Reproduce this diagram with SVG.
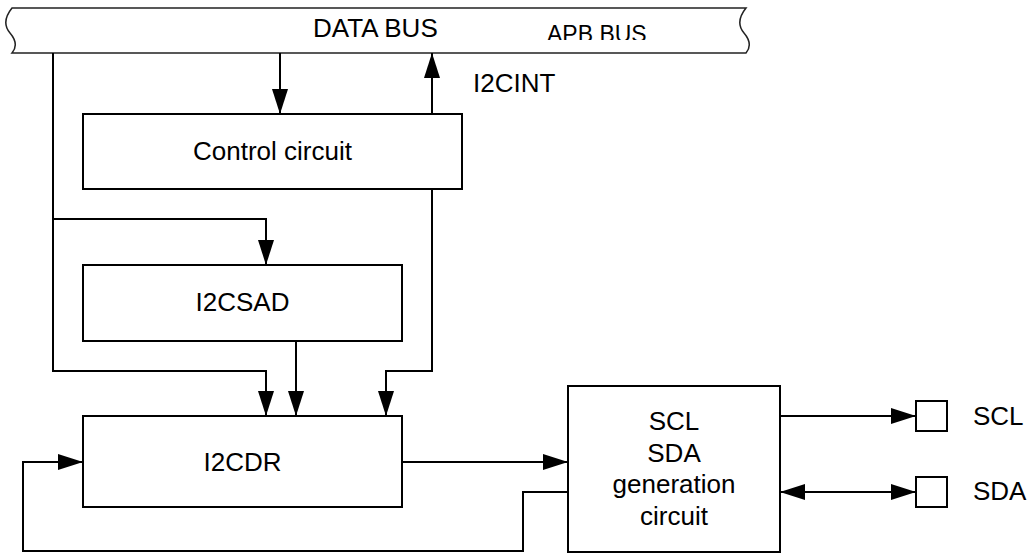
<svg xmlns="http://www.w3.org/2000/svg" width="1029" height="553" viewBox="0 0 1029 553">
<style>
.box{fill:#fff;stroke:#000;stroke-width:2}
.bus{fill:#fff;stroke:#222;stroke-width:1.5}
.ln{fill:none;stroke:#000;stroke-width:2}
.t{font-family:"Liberation Sans",Arial,sans-serif;font-size:26px;fill:#000}
.c{text-anchor:middle}
</style>
<defs>
<marker id="ah" markerUnits="userSpaceOnUse" markerWidth="26" markerHeight="18" refX="25" refY="8" orient="auto-start-reverse">
<path d="M0,0 L25,8 L0,16 Z" fill="#000"/>
</marker>
<clipPath id="apbclip"><rect x="0" y="0" width="1029" height="40"/></clipPath>
</defs>
<g id="bus">
<path class="bus" d="M12,8 L746,8 C738,18 738,26 744,33 C750,40 751,47 746,53 L12,53 C17,47 16,40 10,33 C4,26 4,18 12,8 Z"/>
<text class="t" x="313" y="37">DATA BUS</text>
<text class="t" x="547" y="42" style="font-size:23px" clip-path="url(#apbclip)">APB BUS</text>
</g>
<g id="control">
<rect class="box" x="83" y="114" width="379" height="75"/>
<text class="t c" x="272.5" y="160">Control circuit</text>
</g>
<g id="i2csad">
<rect class="box" x="83" y="265" width="319" height="76"/>
<text class="t c" x="242.5" y="311">I2CSAD</text>
</g>
<g id="i2cdr">
<rect class="box" x="83" y="416" width="319" height="91"/>
<text class="t c" x="242.5" y="471">I2CDR</text>
</g>
<g id="gen">
<rect class="box" x="568" y="386" width="212" height="166"/>
<text class="t c" x="674" y="430">SCL</text>
<text class="t c" x="674" y="462">SDA</text>
<text class="t c" x="674" y="493">generation</text>
<text class="t c" x="674" y="525">circuit</text>
</g>
<g id="scl_pin">
<rect class="box" x="916" y="401" width="31" height="30"/>
<text class="t" x="973" y="425">SCL</text>
</g>
<g id="sda_pin">
<rect class="box" x="916" y="477" width="31" height="30"/>
<text class="t" x="973" y="500">SDA</text>
</g>
<g id="connectors">
<path class="ln" d="M280,53 L280,114" marker-end="url(#ah)"/>
<path class="ln" d="M432,114 L432,53" marker-end="url(#ah)"/>
<text class="t" x="473" y="92">I2CINT</text>
<path class="ln" d="M53,53 L53,371 L266,371 L266,416" marker-end="url(#ah)"/>
<path class="ln" d="M53,219 L266,219 L266,265" marker-end="url(#ah)"/>
<path class="ln" d="M296,341 L296,416" marker-end="url(#ah)"/>
<path class="ln" d="M432,189 L432,371 L386,371 L386,416" marker-end="url(#ah)"/>
<path class="ln" d="M402,462 L568,462" marker-end="url(#ah)"/>
<path class="ln" d="M568,492 L523,492 L523,551 L23,551 L23,462 L83,462" marker-end="url(#ah)"/>
<path class="ln" d="M780,416 L916,416" marker-end="url(#ah)"/>
<path class="ln" d="M780,492 L916,492" marker-start="url(#ah)" marker-end="url(#ah)"/>
</g>
</svg>
